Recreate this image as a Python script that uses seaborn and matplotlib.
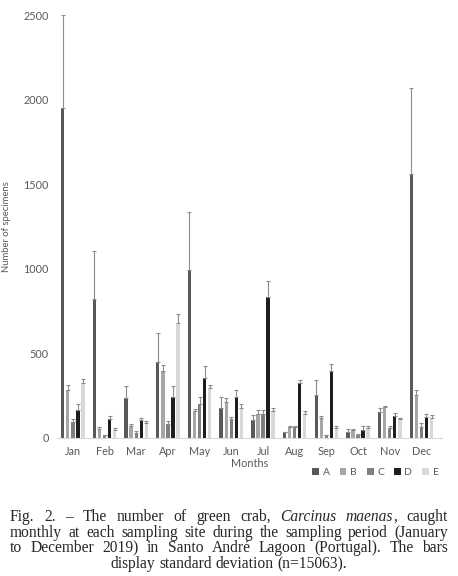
import numpy as np
import pandas as pd
import matplotlib
matplotlib.use("Agg")
import matplotlib.pyplot as plt
import seaborn as sns

# monthly counts per sampling site (mean) and standard deviation
months = ["Jan", "Feb", "Mar", "Apr", "May", "Jun", "Jul", "Aug", "Sep", "Oct", "Nov", "Dec"]
sites = ["A", "B", "C", "D", "E"]

A = [1953, 822, 236, 448, 995, 174, 102, 32, 250, 36, 154, 1558]
B = [283, 53, 71, 394, 156, 212, 142, 62, 114, 44, 180, 250]
C = [95, 14, 28, 80, 202, 110, 142, 62, 14, 16, 58, 64]
D = [164, 111, 105, 242, 352, 240, 835, 326, 394, 46, 126, 120]
E = [323, 48, 87, 680, 292, 178, 158, 142, 60, 58, 110, 114]

sd_A = [547, 283, 70, 170, 340, 66, 30, 0, 94, 14, 22, 510]
sd_B = [28, 8, 12, 38, 14, 22, 22, 8, 14, 6, 6, 34]
sd_C = [14, 0, 12, 18, 40, 10, 22, 8, 0, 4, 12, 22]
sd_D = [34, 16, 10, 66, 74, 44, 90, 16, 40, 22, 18, 20]
sd_E = [25, 7, 14, 52, 22, 22, 20, 16, 12, 12, 4, 20]

means = {"A": A, "B": B, "C": C, "D": D, "E": E}
sds = {"A": sd_A, "B": sd_B, "C": sd_C, "D": sd_D, "E": sd_E}

colors = {"A": "#595959", "B": "#a6a6a6", "C": "#7f7f7f", "D": "#1e1e1e", "E": "#d9d9d9"}

rows = []
for s in sites:
    for m, v in zip(months, means[s]):
        rows.append({"month": m, "site": s, "count": v})
df = pd.DataFrame(rows)

sns.set_style("white")
plt.rcParams["font.family"] = ["Lato", "DejaVu Sans"]

fig = plt.figure(figsize=(4.58, 5.76), dpi=100)
ax = fig.add_axes([57 / 458, 138.3 / 576, (442 - 57) / 458, (437.7 - 15.3) / 576])

sns.barplot(data=df, x="month", y="count", hue="site", order=months, hue_order=sites,
            palette=colors, errorbar=None, width=0.8, gap=0.33, linewidth=0, ax=ax)

# upper error bars only
for cont, s in zip(ax.containers, sites):
    xs = [p.get_x() + p.get_width() / 2 for p in cont.patches]
    ax.errorbar(xs, means[s], yerr=[np.zeros(len(xs)), sds[s]], fmt="none",
                ecolor="#8c8c8c", elinewidth=0.8, capsize=1.3, capthick=0.8)

ax.set_ylim(0, 2500)
ax.set_xlim(-0.5, 11.65)
ax.set_yticks([0, 500, 1000, 1500, 2000, 2500])
ax.tick_params(axis="both", labelsize=7.8, colors="#595959", length=0, pad=6)
ax.set_ylabel("Number of specimens", fontsize=6.8, color="#595959", labelpad=9)
ax.set_xlabel("Months", fontsize=7.8, color="#595959", labelpad=1)
for side in ["left", "top", "right"]:
    ax.spines[side].set_visible(False)
ax.spines["bottom"].set_color("#d9d9d9")
ax.spines["bottom"].set_linewidth(0.8)

sns.move_legend(ax, "center left", bbox_to_anchor=(303 / 458, 1 - 472.7 / 576),
                bbox_transform=fig.transFigure, ncol=5, frameon=False, title=None,
                fontsize=7.5, handlelength=0.65, handleheight=0.65, handletextpad=0.35,
                columnspacing=0.95, labelcolor="#595959")

# caption, justified line by line
renderer = fig.canvas.get_renderer()
cap_size = 11.2
cap_font = "Liberation Serif"


def place_words(words, y_px, x0, x1, justify=True):
    y = 1 - y_px / 576
    items = []
    total = 0
    for w in words:
        parts = w if isinstance(w, list) else [(w, False)]
        ts = []
        ww = 0
        for txt, it in parts:
            t = fig.text(0, y, txt, fontsize=cap_size, family=cap_font,
                         style="italic" if it else "normal", va="center", ha="left")
            bw = t.get_window_extent(renderer).width
            ts.append((t, bw))
            ww += bw
        items.append(ts)
        total += ww
    if justify:
        gap = ((x1 - x0) - total) / (len(words) - 1)
        x = x0
    else:
        t2 = fig.text(0, 0, "a a", fontsize=cap_size, family=cap_font)
        t1 = fig.text(0, 0, "aa", fontsize=cap_size, family=cap_font)
        gap = t2.get_window_extent(renderer).width - t1.get_window_extent(renderer).width
        t2.remove()
        t1.remove()
        full = total + gap * (len(words) - 1)
        x = (x0 + x1) / 2 - full / 2
    for ts in items:
        for t, bw in ts:
            t.set_x(x / 458)
            x += bw
        x += gap


place_words(["Fig.", "2.", "\u2013", "The", "number", "of", "green", "crab,",
             [("Carcinus", True)], [("maenas", True), (",", False)], "caught"], 517, 10, 448)
place_words("monthly at each sampling site during the sampling period (January".split(), 532.7, 10, 448)
place_words("to December 2019) in Santo Andr\u00e9 Lagoon (Portugal). The bars".split(), 548, 10, 448)
place_words("display standard deviation (n=15063).".split(), 564, 10, 448, justify=False)

fig.savefig("out.png", dpi=100)
